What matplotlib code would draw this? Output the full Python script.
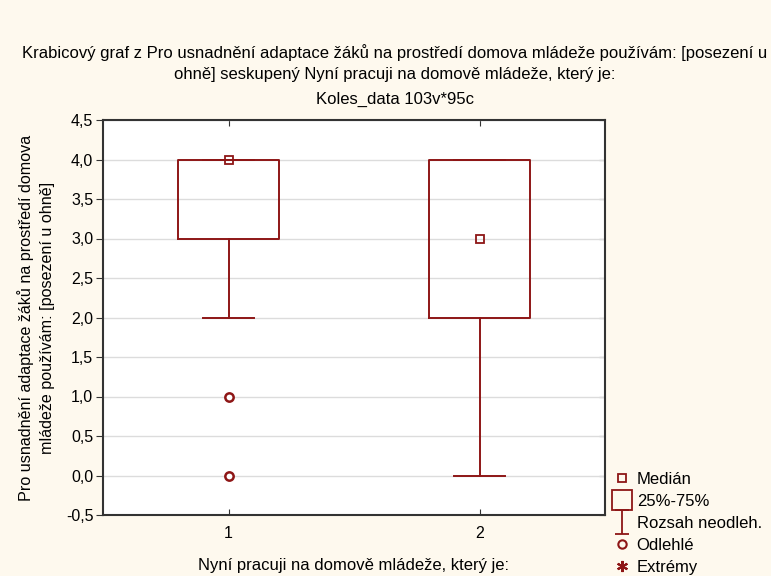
import matplotlib
matplotlib.use("Agg")
import matplotlib.pyplot as plt
from matplotlib.lines import Line2D
from matplotlib.path import Path

plt.rcParams["font.family"] = ["Liberation Sans", "DejaVu Sans"]

# data
groups = [1, 2]
group_labels = ["1", "2"]
medians = [4.0, 3.0]
q1 = [3.0, 2.0]
q3 = [4.0, 4.0]
whisker_lo = [2.0, 0.0]
whisker_hi = [4.0, 4.0]
outlier_x = [1, 1]
outlier_y = [1.0, 0.0]

yticks = [-0.5, 0.0, 0.5, 1.0, 1.5, 2.0, 2.5, 3.0, 3.5, 4.0, 4.5]
ytick_labels = ["-0,5", "0,0", "0,5", "1,0", "1,5", "2,0", "2,5", "3,0", "3,5", "4,0", "4,5"]

title_lines = [
    "Krabicový graf z Pro usnadnění adaptace žáků na prostředí domova mládeže používám: [posezení u",
    "ohně] seskupený Nyní pracuji na domově mládeže, který je:",
    "Koles_data 103v*95c",
]
xlabel = "Nyní pracuji na domově mládeže, který je:"
ylabel = "Pro usnadnění adaptace žáků na prostředí domova\nmládeže používám: [posezení u ohně]"
legend_labels = ["Medián", "25%-75%", "Rozsah neodleh.", "Odlehlé", "Extrémy"]

RED = "#8e1616"
BG = "#fef9ee"
FS = 12

fig = plt.figure(figsize=(7.71, 5.76), dpi=100, facecolor=BG)
ax = fig.add_axes([103 / 771, 61 / 576, 502 / 771, 395 / 576])
ax.set_facecolor("white")

stats = [
    {"med": m, "q1": a, "q3": b, "whislo": lo, "whishi": hi, "fliers": []}
    for m, a, b, lo, hi in zip(medians, q1, q3, whisker_lo, whisker_hi)
]
ax.bxp(
    stats,
    positions=groups,
    widths=0.4,
    capwidths=0.2,
    showfliers=False,
    boxprops={"color": RED, "linewidth": 1.4},
    whiskerprops={"color": RED, "linewidth": 1.4},
    capprops={"color": RED, "linewidth": 1.4},
    medianprops={"linewidth": 0},
    zorder=3,
)
ax.plot(groups, medians, linestyle="", marker="s", markersize=6,
        markerfacecolor="none", markeredgecolor=RED, markeredgewidth=1.3, zorder=4)
ax.plot(outlier_x, outlier_y, linestyle="", marker="o", markersize=6,
        markerfacecolor="white", markeredgecolor=RED, markeredgewidth=1.8, zorder=4)

ax.set_xlim(0.5, 2.5)
ax.set_ylim(-0.5, 4.5)
ax.set_xticks(groups)
ax.set_xticklabels(group_labels)
ax.set_yticks(yticks)
ax.set_yticklabels(ytick_labels)
ax.yaxis.grid(True, color="#dcdcdc", linewidth=1.0, zorder=0)
ax.set_axisbelow(True)
for spine in ax.spines.values():
    spine.set_color("#333333")
    spine.set_linewidth(1.5)
ax.tick_params(axis="y", left=True, right=False, direction="out", length=5,
               labelsize=11.5, color="#333333", pad=2)
ax.tick_params(axis="x", top=True, bottom=True, direction="in", length=4,
               labelsize=11.5, color="#333333", pad=8)

# inward ticks on the right spine
right = ax.secondary_yaxis("right")
right.set_yticks(yticks)
right.tick_params(direction="in", length=4, color="#333333", labelright=False)
right.spines["right"].set_visible(False)

ax.set_xlabel(xlabel, fontsize=FS, labelpad=12)
ax.set_ylabel(ylabel, fontsize=11.6, labelpad=8, linespacing=1.45)

fig.text(395 / 771, 1 - 53 / 576, title_lines[0], ha="center", va="center", fontsize=FS)
fig.text(395 / 771, 1 - 75 / 576, title_lines[1], ha="center", va="center", fontsize=FS)
fig.text(395 / 771, 1 - 99 / 576, title_lines[2], ha="center", va="center", fontsize=FS)

ibeam = Path([(-0.6, 1), (0.6, 1), (0, 1), (0, -1), (-0.6, -1), (0.6, -1)],
             [Path.MOVETO, Path.LINETO, Path.MOVETO, Path.LINETO, Path.MOVETO, Path.LINETO])
handles = [
    Line2D([0], [0], linestyle="", marker="s", markersize=6, markerfacecolor="none",
           markeredgecolor=RED, markeredgewidth=1.3),
    Line2D([0], [0], linestyle="", marker="s", markersize=15, markerfacecolor="none",
           markeredgecolor=RED, markeredgewidth=1.3),
    Line2D([0], [0], linestyle="", marker=ibeam, markersize=17, markerfacecolor="none",
           markeredgecolor=RED, markeredgewidth=1.3),
    Line2D([0], [0], linestyle="", marker="o", markersize=6, markerfacecolor="none",
           markeredgecolor=RED, markeredgewidth=1.5),
    Line2D([0], [0], linestyle="", marker=(6, 2, 0), markersize=8, markerfacecolor=RED,
           markeredgecolor=RED, markeredgewidth=1.5),
]
fig.legend(handles, legend_labels, loc="upper left", bbox_to_anchor=(605 / 771, 1 - 465 / 576),
           frameon=False, fontsize=FS, handlelength=1.2, handletextpad=0.3,
           labelspacing=0.42, borderaxespad=0.0)

fig.savefig("out.png", dpi=100, facecolor=BG)
